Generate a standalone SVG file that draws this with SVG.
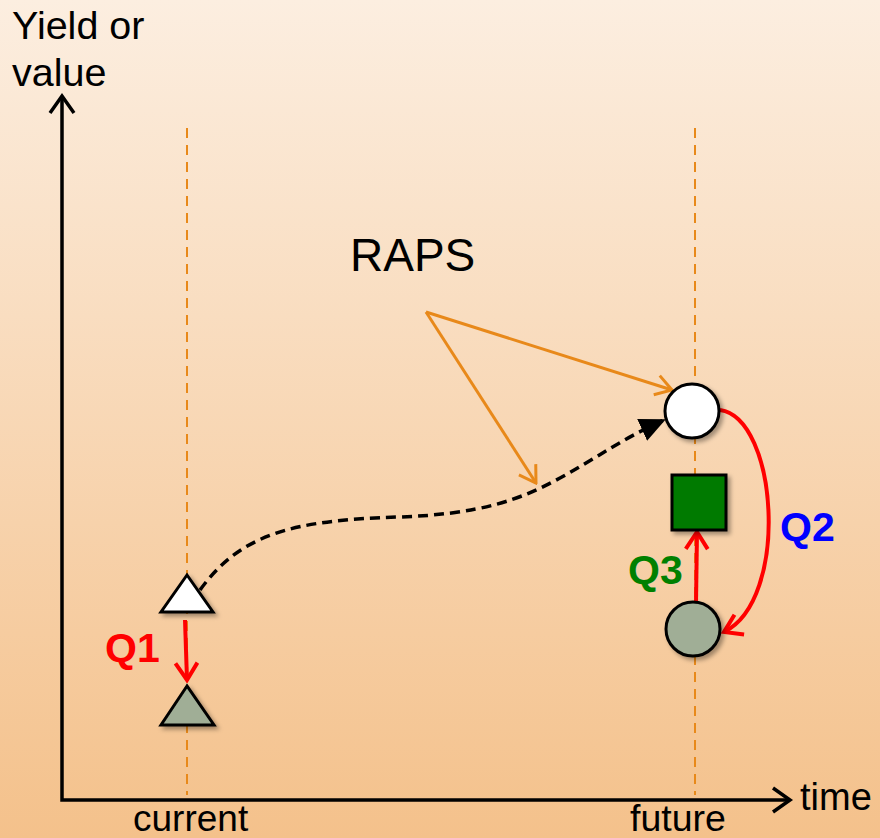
<svg xmlns="http://www.w3.org/2000/svg" width="880" height="838" viewBox="0 0 880 838">
<defs>
<linearGradient id="bg" x1="0" y1="0" x2="0" y2="1">
<stop offset="0" stop-color="#FCEEE0"/>
<stop offset="1" stop-color="#F4C18B"/>
</linearGradient>
<filter id="sh" x="-30%" y="-30%" width="160%" height="160%">
<feDropShadow dx="3" dy="3" stdDeviation="2" flood-color="#000" flood-opacity="0.35"/>
</filter>
<marker id="orArrow" viewBox="0 0 20 24" refX="18" refY="12" markerWidth="20" markerHeight="24" markerUnits="userSpaceOnUse" orient="auto">
<path d="M2,2 L18,12 L2,22" fill="none" stroke="#E8891A" stroke-width="3"/>
</marker>
<marker id="redArrow" viewBox="0 0 22 26" refX="19" refY="13" markerWidth="22" markerHeight="26" markerUnits="userSpaceOnUse" orient="auto">
<path d="M2,2 L19,13 L2,24" fill="none" stroke="#FF0000" stroke-width="4"/>
</marker>
<marker id="blkArrow" viewBox="0 0 26 24" refX="24" refY="12" markerWidth="26" markerHeight="24" markerUnits="userSpaceOnUse" orient="auto">
<path d="M0,0 L26,12 L0,24 Z" fill="#000"/>
</marker>
</defs>
<style>
.lbl{font-family:"Liberation Sans",Arial,sans-serif;fill:#000}
.q{font-family:"Liberation Sans",Arial,sans-serif;font-weight:bold;font-size:41px}
.guide{stroke:#E8891A;stroke-width:2;stroke-dasharray:10 7;fill:none}
.node{stroke:#000;stroke-width:3;filter:url(#sh)}
</style>
<rect x="0" y="0" width="880" height="838" fill="url(#bg)"/>

<g id="guides">
<line class="guide" x1="187" y1="128" x2="187" y2="795"/>
<line class="guide" x1="695" y1="128" x2="695" y2="795"/>
</g>

<g id="axes">
<polyline points="62,96 62,800 790,800" fill="none" stroke="#000" stroke-width="3.5"/>
<path d="M50,113 L62,96 L74,113" fill="none" stroke="#000" stroke-width="3.5"/>
<path d="M773,788 L790,800 L773,812" fill="none" stroke="#000" stroke-width="3.5"/>
</g>

<g id="labels">
<text class="lbl" x="12" y="39" font-size="39.5">Yield or</text>
<text class="lbl" x="12" y="86" font-size="39.5">value</text>
<text class="lbl" x="800" y="810" font-size="38">time</text>
<text class="lbl" x="133" y="831" font-size="37">current</text>
<text class="lbl" x="630" y="831" font-size="37.5">future</text>
<text class="lbl" x="350" y="271" font-size="46">RAPS</text>
</g>

<g id="connectors">
<path d="M426,312 L672,390" stroke="#E8891A" stroke-width="3" fill="none" marker-end="url(#orArrow)"/>
<path d="M426,312 L536,483" stroke="#E8891A" stroke-width="3" fill="none" marker-end="url(#orArrow)"/>
<path d="M200,590 C240,535 290,520 400,517 C480,514 520,500 560,478 C600,456 620,440 664,420" stroke="#000" stroke-width="3.5" stroke-dasharray="10 6" fill="none" marker-end="url(#blkArrow)"/>
<path d="M185,620 L187,680" stroke="#FF0000" stroke-width="4" fill="none" marker-end="url(#redArrow)"/>
<path d="M696,603 L697,532" stroke="#FF0000" stroke-width="4" fill="none" marker-end="url(#redArrow)"/>
<path d="M720,410 C778,418 790,600 724,632" stroke="#FF0000" stroke-width="4" fill="none" marker-end="url(#redArrow)"/>
</g>

<g id="tri-current">
<polygon class="node" points="187,575 161,612 213,612" fill="#FFFFFF"/>
</g>
<g id="tri-current-q1">
<polygon class="node" points="187,686 161,725 214,725" fill="#A0AE96"/>
</g>
<g id="circle-future">
<circle class="node" cx="692" cy="411" r="27" fill="#FFFFFF"/>
</g>
<g id="square-q3">
<rect class="node" x="672" y="475" width="54" height="55" fill="#007A00"/>
</g>
<g id="circle-q2">
<circle class="node" cx="693" cy="629" r="27" fill="#A0AE96"/>
</g>

<g id="q-labels">
<text class="q" x="105" y="662" fill="#FF0000">Q1</text>
<text class="q" x="780" y="541" fill="#0000FF">Q2</text>
<text class="q" x="628" y="584" fill="#008000">Q3</text>
</g>
</svg>
